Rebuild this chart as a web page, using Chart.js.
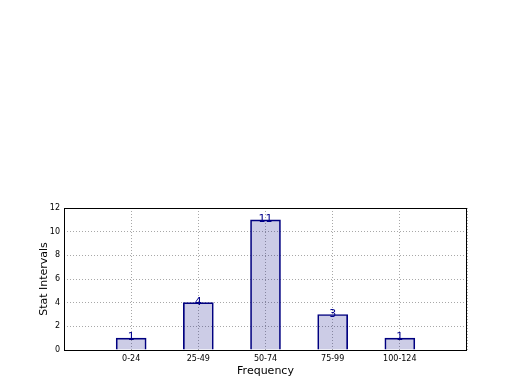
<!DOCTYPE html>
<html>
<head>
<meta charset="utf-8">
<script src="https://cdn.jsdelivr.net/npm/chart.js@4/dist/chart.umd.min.js"></script>
<style>
  html, body { margin: 0; padding: 0; background: #fff; }
  #wrap { width: 520px; height: 390px; }
</style>
</head>
<body>
<div id="wrap"><canvas id="chart"></canvas></div>
<script>
// data
const intervals = ['', '0-24', '25-49', '50-74', '75-99', '100-124', ''];
const counts = [null, 1, 4, 11, 3, 1, null];
const yTicks = [0, 2, 4, 6, 8, 10, 12];
const xTitle = 'Frequency';
const yTitle = 'Stat Intervals';

const font = 'DejaVu Sans';

// numbers above the bars
const barLabels = {
    id: 'barLabels',
    afterDatasetsDraw(chart) {
        const ctx = chart.ctx;
        const meta = chart.getDatasetMeta(0);
        ctx.save();
        ctx.fillStyle = '#00008b';
        ctx.font = '11px ' + font;
        ctx.textAlign = 'center';
        ctx.textBaseline = 'alphabetic';
        meta.data.forEach((bar, i) => {
            if (counts[i] == null) return;
            ctx.fillText(String(counts[i]), bar.x, bar.y + 2);
        });
        ctx.restore();
    }
};

// frame + axis titles
const frame = {
    id: 'frame',
    afterDraw(chart) {
        const { ctx, chartArea: a } = chart;
        ctx.save();
        ctx.strokeStyle = '#000';
        ctx.lineWidth = 1;
        ctx.strokeRect(a.left + 0.5, a.top + 0.5, a.right - a.left - 1, a.bottom - a.top);

        ctx.fillStyle = '#000';
        ctx.font = '11px ' + font;
        ctx.textAlign = 'center';
        ctx.textBaseline = 'alphabetic';
        ctx.fillText(xTitle, (a.left + a.right) / 2, a.bottom + 24);

        ctx.translate(a.left - 17, (a.top + a.bottom) / 2);
        ctx.rotate(-Math.PI / 2);
        ctx.fillText(yTitle, 0, 0);
        ctx.restore();
    }
};

new Chart(document.getElementById('chart'), {
    type: 'bar',
    data: {
        labels: intervals,
        datasets: [{
            data: counts,
            backgroundColor: 'rgba(0, 0, 128, 0.2)',
            borderColor: '#000080',
            borderWidth: 1,
            barThickness: 30
        }]
    },
    options: {
        responsive: true,
        maintainAspectRatio: false,
        animation: false,
        layout: { padding: { left: 0, top: 208, right: 53, bottom: 0 } },
        plugins: {
            legend: { display: false },
            tooltip: { enabled: false }
        },
        scales: {
            x: {
                offset: false,
                grid: {
                    color: '#a8a8a8',
                    drawTicks: false,
                    offset: false
                },
                border: { display: false, dash: [1, 2] },
                ticks: {
                    color: '#000',
                    font: { family: font, size: 8 },
                    padding: 4,
                    maxRotation: 0,
                    autoSkip: false
                },
                afterFit(scale) { scale.height = 40; }
            },
            y: {
                min: 0,
                max: 12,
                afterBuildTicks(scale) { scale.ticks = yTicks.map(v => ({ value: v })); },
                grid: {
                    color: '#a8a8a8',
                    drawTicks: false
                },
                border: { display: false, dash: [1, 2] },
                ticks: {
                    color: '#000',
                    font: { family: font, size: 8 },
                    padding: 4
                },
                afterFit(scale) { scale.width = 64; }
            }
        }
    },
    plugins: [barLabels, frame]
});
</script>
</body>
</html>
